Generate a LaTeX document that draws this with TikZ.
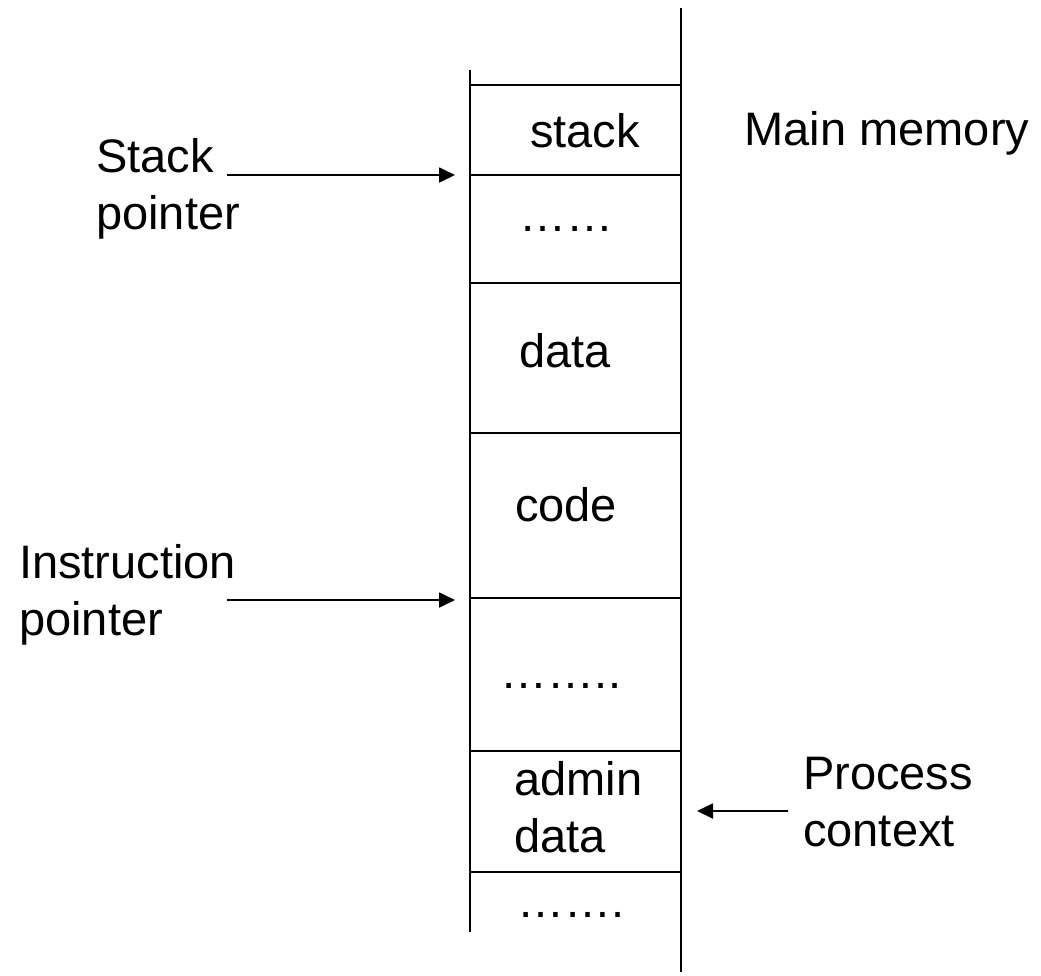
\documentclass[tikz,border=0pt]{standalone}
\usepackage{fontspec}
\setmainfont{Liberation Sans}
\usetikzlibrary{arrows.meta}

\tikzset{
  wall/.style={line width=1.8pt},
  lbl/.style={inner sep=0pt, font=\fontsize{47}{57}\selectfont},
  ptr/.style={line width=1.8pt, -{Triangle[length=16pt,width=15pt]}}
}

\begin{document}
\begin{tikzpicture}[x=1pt, y=-1pt]
\useasboundingbox (0,0) rectangle (1041,975);

% memory column
\draw[wall] (470,70) -- (470,932);
\draw[wall] (681,8) -- (681,972);
\foreach \y in {85, 175, 283, 433, 598, 751, 872}
  \draw[wall] (470,\y) -- (681,\y);

% cell texts
\node[lbl, anchor=base] (stk) at (585,147) {stack};
\node[lbl, anchor=base] (gap1) at (566,231) {……};
\node[lbl, anchor=base] (dat) at (565,367) {data};
\node[lbl, anchor=base] (cod) at (566,521) {code};
\node[lbl, anchor=base] (gap2) at (561,688) {……..};
\node[lbl, anchor=base west, align=left] (adm) at (514,852) {admin\\data};
\node[lbl, anchor=base] (gap3) at (571,917) {…….};

% side labels
\node[lbl, anchor=base] (mem) at (887,145) {Main memory};
\node[lbl, anchor=base west, align=left] (spl) at (96,229) {Stack\\pointer};
\node[lbl, anchor=base west, align=left] (ipl) at (19,635) {Instruction\\pointer};
\node[lbl, anchor=base west, align=left] (pcl) at (803,846) {Process\\context};

% pointers
\coordinate (spa) at (227,175);
\coordinate (spb) at (455,175);
\coordinate (ipa) at (227,600);
\coordinate (ipb) at (455,600);
\coordinate (pca) at (788,811);
\coordinate (pcb) at (697,811);
\draw[ptr] (spa) -- (spb);
\draw[ptr] (ipa) -- (ipb);
\draw[ptr] (pca) -- (pcb);

\end{tikzpicture}
\end{document}
